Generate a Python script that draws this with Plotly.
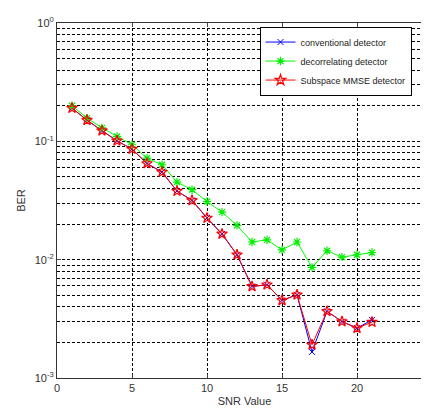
import plotly.graph_objects as go

snr = list(range(1, 22))
conventional = [0.191, 0.151, 0.123, 0.101, 0.086, 0.065, 0.055, 0.038, 0.0317, 0.0225, 0.0165,
                0.011, 0.00594, 0.00614, 0.00453, 0.00505, 0.00166, 0.00366, 0.0030, 0.00264, 0.0031]
decorrelating = [0.200, 0.157, 0.130, 0.110, 0.0936, 0.072, 0.0634, 0.0453, 0.039, 0.031, 0.0252,
                 0.0195, 0.0141, 0.0147, 0.0121, 0.0141, 0.0086, 0.0119, 0.0105, 0.0110, 0.0115]
subspace_mmse = [0.191, 0.151, 0.123, 0.101, 0.086, 0.065, 0.055, 0.038, 0.0317, 0.0225, 0.0165,
                 0.011, 0.00594, 0.00614, 0.00453, 0.00505, 0.00191, 0.00366, 0.0030, 0.00264, 0.00297]
names = ["conventional detector", "decorrelating detector", "Subspace MMSE detector"]
y_tickvals = [0.001, 0.01, 0.1, 1]
y_ticktext = ["10<sup>-3</sup>", "10<sup>-2</sup>", "10<sup>-1</sup>", "10<sup>0</sup>"]

fig = go.Figure()
fig.add_trace(go.Scatter(x=snr, y=conventional, name=names[0], mode="lines+markers",
                         line=dict(color="#0000ff", width=1),
                         marker=dict(symbol="x-thin-open", size=6, color="#0000ff",
                                     line=dict(width=1, color="#0000ff"))))
fig.add_trace(go.Scatter(x=snr, y=decorrelating, name=names[1], mode="lines+markers",
                         line=dict(color="#00ff00", width=1),
                         marker=dict(symbol="asterisk-open", size=7, color="#00ee00",
                                     line=dict(width=1.2, color="#00dd00"))))
fig.add_trace(go.Scatter(x=snr, y=subspace_mmse, name=names[2], mode="lines+markers",
                         line=dict(color="#ff0000", width=1),
                         marker=dict(symbol="star-open", size=8, color="#ff0000",
                                     line=dict(width=1.2, color="#ff0000"))))

grid = dict(gridcolor="black", griddash="3px,2px", gridwidth=1)
fig.update_layout(
    width=429, height=408, autosize=False,
    margin=dict(l=49, r=5, t=15, b=38),
    paper_bgcolor="white", plot_bgcolor="white",
    font=dict(family="Liberation Sans, Arial, sans-serif", size=11, color="#333333"),
    showlegend=True,
    legend=dict(x=0.54, y=0.99, xanchor="left", yanchor="top",
                bgcolor="white", bordercolor="black", borderwidth=1,
                font=dict(size=9, color="#222222"), tracegroupgap=0,
                itemwidth=30),
    xaxis=dict(range=[0, 25], dtick=5, showgrid=True, **grid, zeroline=False,
               showline=True, linecolor="#333333", mirror="ticks", ticks="inside", ticklen=4,
               title=dict(text="SNR Value", standoff=4, font=dict(size=11))),
    yaxis=dict(type="log", range=[-3, 0], tickvals=y_tickvals, ticktext=y_ticktext,
               showgrid=True, **grid, zeroline=False,
               showline=True, linecolor="#333333", mirror="ticks", ticks="inside", ticklen=4,
               minor=dict(dtick="D1", showgrid=True, gridcolor="black", griddash="3px,2px",
                          gridwidth=1, ticks=""),
               title=dict(text="BER", standoff=6, font=dict(size=11))),
)
fig.write_html("out.html")
